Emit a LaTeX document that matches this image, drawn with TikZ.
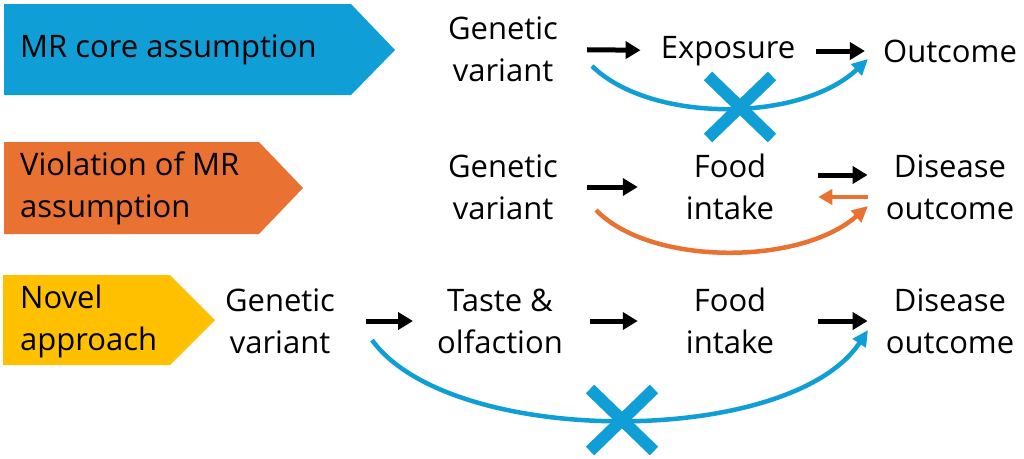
\documentclass[tikz,border=0pt]{standalone}
\usepackage{fontspec}
\setmainfont{Open Sans}
\usetikzlibrary{arrows.meta}
\definecolor{mrblue}{HTML}{0F9ED5}
\definecolor{mrorange}{HTML}{E97132}
\definecolor{mryellow}{HTML}{FFC000}
\begin{document}
\begin{tikzpicture}[x=1pt,y=-1pt,
  lbl/.style={align=center, inner sep=0pt, font=\fontsize{31}{42}\selectfont},
  tag/.style={align=left, anchor=west, inner sep=0pt, font=\fontsize{31}{42}\selectfont},
  arr/.style={line width=5pt, -{Triangle[length=15pt,width=17pt]}},
  curvarr/.style={line width=4.5pt, -{Triangle[length=16pt,width=15pt]}},
  cross/.style={line width=12pt, draw=mrblue}]
\useasboundingbox (0,0) rectangle (1024,458);
% tags
\fill[mrblue] (4,4) -- (351,4) -- (395,50) -- (351,95) -- (4,95) -- cycle;
\fill[mrorange] (4,142) -- (259,142) -- (303,188) -- (259,234) -- (4,234) -- cycle;
\fill[mryellow] (3,275) -- (170,275) -- (215,320) -- (170,365) -- (3,365) -- cycle;
\node[tag] (t1) at (20,50) {MR core assumption};
\node[tag] (t2) at (20,188) {Violation of MR\\assumption};
\node[tag] (t3) at (20,321) {Novel\\approach};
% row 1
\node[lbl] (gv1) at (503,49) {Genetic\\variant};
\node[lbl] (ex1) at (728,51) {Exposure};
\node[lbl] (oc1) at (950,51) {Outcome};
% row 2
\node[lbl] (gv2) at (503,187) {Genetic\\variant};
\node[lbl] (fi2) at (730,187) {Food\\intake};
\node[lbl] (do2) at (950,187) {Disease\\outcome};
% row 3
\node[lbl] (gv3) at (280,321) {Genetic\\variant};
\node[lbl] (to3) at (500,321) {Taste \&\\olfaction};
\node[lbl] (fi3) at (730,321) {Food\\intake};
\node[lbl] (do3) at (950,321) {Disease\\outcome};
% straight arrows
\draw[arr, shorten <=29pt, shorten >=20pt] (gv1) -- (ex1);
\draw[arr, shorten <=21pt, shorten >=18pt] (ex1) -- (oc1);
\draw[arr, shorten <=29pt, shorten >=48pt] (gv2) -- (fi2);
\draw[arr, shorten <=44pt, shorten >=18pt] ([yshift=12pt]fi2.east) -- ([yshift=12pt]do2.west);
\draw[line width=4.5pt, mrorange, -{Triangle[length=14pt,width=15pt]}, shorten <=18pt, shorten >=44pt] ([yshift=-10pt]do2.west) -- ([yshift=-10pt]fi2.east);
\draw[arr, shorten <=31pt, shorten >=24pt] (gv3) -- (to3);
\draw[arr, shorten <=27pt, shorten >=48pt] (to3) -- (fi3);
\draw[arr, shorten <=44pt, shorten >=18pt] (fi3) -- (do3);
% curved arrows
\draw[curvarr, mrblue] ([shift={(89,17)}]gv1.center) .. controls (650,123) and (800,123) .. ([shift={(-82,8)}]oc1.center);
\draw[curvarr, mrorange] ([shift={(93,23)}]gv2.center) .. controls (650,266) and (800,266) .. ([shift={(-82,19)}]do2.center);
\draw[curvarr, mrblue] ([shift={(92,19)}]gv3.center) .. controls (450,448) and (790,448) .. ([shift={(-82,9)}]do3.center);
% crosses
\draw[cross] (708,76) -- (772,138);
\draw[cross] (708,138) -- (772,76);
\draw[cross] (590,389) -- (654,451);
\draw[cross] (590,451) -- (654,389);
\end{tikzpicture}
\end{document}
